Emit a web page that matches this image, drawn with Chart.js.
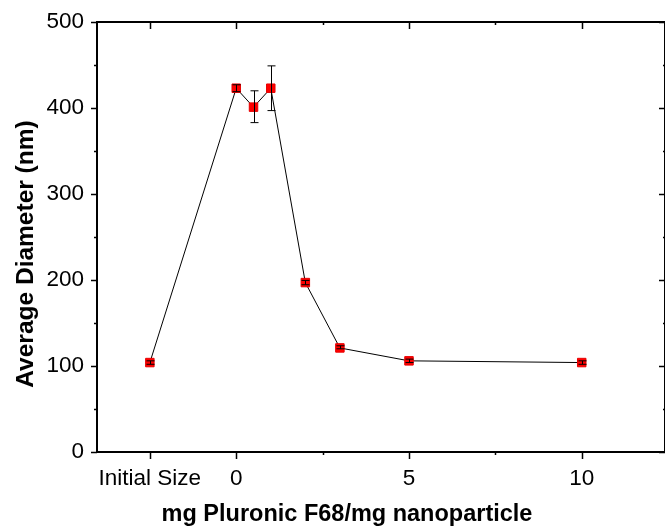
<!DOCTYPE html>
<html>
<head>
<meta charset="utf-8">
<script src="https://cdn.jsdelivr.net/npm/chart.js@4"></script>
<style>
  body { margin: 0; background: #fff; }
  #wrap { width: 665px; height: 527px; }
</style>
</head>
<body>
<div id="wrap"><canvas id="sizeChart" width="665" height="527"></canvas></div>
<script>
// data
const categories = ['Initial Size', '0', '0.5', '1', '2', '3', '5', '10'];
const xPositions = [-2.5, 0, 0.5, 1, 2, 3, 5, 10];
const diameters = [104, 423, 401, 423, 197, 121, 106, 104];
const errPlus = [2, 4, 19, 26, 2.5, 2.5, 2, 2];
const errMinus = [2, 4, 18, 26, 2.5, 1, 2, 2];

// axis ticks
const xTickValues = [-2.5, 0, 2.5, 5, 7.5, 10];
const xTickLabels = ['Initial Size', '0', '', '5', '', '10'];
const xMajor = [-2.5, 0, 5, 10];
const yTickValues = [0, 100, 200, 300, 400, 500];
const yMinor = [50, 150, 250, 350, 450];

const ctx = document.getElementById('sizeChart').getContext('2d');
const FONT = '"Liberation Sans", Arial, Helvetica, sans-serif';

// error bars on top of the markers
const errorBars = {
    id: 'errorBars',
    afterDatasetsDraw(chart) {
        const { ctx, scales: { x, y } } = chart;
        ctx.save();
        ctx.strokeStyle = '#000';
        ctx.lineWidth = 1;
        xPositions.forEach((xv, i) => {
            const px = Math.round(x.getPixelForValue(xv)) + 0.5;
            const top = y.getPixelForValue(diameters[i] + errPlus[i]);
            const bot = y.getPixelForValue(diameters[i] - errMinus[i]);
            ctx.beginPath();
            ctx.moveTo(px, top);
            ctx.lineTo(px, bot);
            ctx.moveTo(px - 4, top);
            ctx.lineTo(px + 4, top);
            ctx.moveTo(px - 4, bot);
            ctx.lineTo(px + 4, bot);
            ctx.stroke();
        });
        ctx.restore();
    }
};

// box frame with ticks (outward on bottom/left, inward on top/right) and axis titles
const frame = {
    id: 'frame',
    afterDraw(chart) {
        const { ctx, chartArea: a, scales: { x, y } } = chart;
        ctx.save();
        ctx.strokeStyle = '#000';
        ctx.lineWidth = 2;
        ctx.strokeRect(a.left, a.top, a.right - a.left, a.bottom - a.top);

        ctx.lineWidth = 1.5;
        ctx.beginPath();
        xTickValues.forEach(v => {
            const px = Math.round(x.getPixelForValue(v)) + 0.5;
            const len = xMajor.includes(v) ? 7 : 3;
            ctx.moveTo(px, a.bottom);
            ctx.lineTo(px, a.bottom + len);
            ctx.moveTo(px, a.top);
            ctx.lineTo(px, a.top + len);
        });
        yTickValues.forEach(v => {
            const py = Math.round(y.getPixelForValue(v)) + 0.5;
            ctx.moveTo(a.left - 6, py);
            ctx.lineTo(a.left, py);
            ctx.moveTo(a.right, py);
            ctx.lineTo(a.right - 6, py);
        });
        yMinor.forEach(v => {
            const py = Math.round(y.getPixelForValue(v)) + 0.5;
            ctx.moveTo(a.left - 3, py);
            ctx.lineTo(a.left, py);
            ctx.moveTo(a.right, py);
            ctx.lineTo(a.right - 2, py);
        });
        ctx.stroke();

        ctx.fillStyle = '#000';
        ctx.textAlign = 'center';
        ctx.textBaseline = 'alphabetic';
        ctx.font = 'bold 23.5px ' + FONT;
        ctx.fillText('mg Pluronic F68/mg nanoparticle', 347, 521);
        ctx.font = 'bold 24.5px ' + FONT;
        ctx.translate(33, 254);
        ctx.rotate(-Math.PI / 2);
        ctx.fillText('Average Diameter (nm)', 0, 0);
        ctx.restore();
    }
};

const sizeChart = new Chart(ctx, {
    type: 'line',
    data: {
        labels: categories,
        datasets: [{
            label: 'Average Diameter',
            data: xPositions.map((xv, i) => ({ x: xv, y: diameters[i] })),
            borderColor: '#000',
            borderWidth: 1,
            tension: 0,
            pointStyle: 'rect',
            pointRadius: 6,
            pointBackgroundColor: '#ff0000',
            pointBorderColor: '#e80000',
            pointBorderWidth: 1
        }]
    },
    options: {
        responsive: false,
        animation: false,
        devicePixelRatio: 1,
        layout: { autoPadding: false, padding: { top: 22, right: 0, left: 0, bottom: 0 } },
        plugins: {
            legend: { display: false },
            tooltip: { enabled: false }
        },
        scales: {
            x: {
                type: 'linear',
                min: -4.03,
                max: 12.41,
                grid: { display: false },
                border: { display: false },
                afterBuildTicks: scale => {
                    scale.ticks = xTickValues.map(v => ({ value: v }));
                },
                afterFit: scale => {
                    scale.height = 75;
                    scale.paddingLeft = 0;
                    scale.paddingRight = 0;
                },
                ticks: {
                    color: '#000',
                    padding: 5,
                    maxRotation: 0,
                    autoSkip: false,
                    font: { family: FONT, size: 22.5 },
                    callback: value => xTickLabels[xTickValues.indexOf(value)]
                }
            },
            y: {
                min: 0,
                max: 500,
                grid: { display: false },
                border: { display: false },
                afterBuildTicks: scale => {
                    scale.ticks = yTickValues.map(v => ({ value: v }));
                },
                afterFit: scale => {
                    scale.width = 97;
                    scale.paddingTop = 0;
                    scale.paddingBottom = 0;
                },
                ticks: {
                    color: '#000',
                    padding: 5,
                    font: { family: FONT, size: 22.5 }
                }
            }
        }
    },
    plugins: [errorBars, frame]
});
</script>
</body>
</html>
